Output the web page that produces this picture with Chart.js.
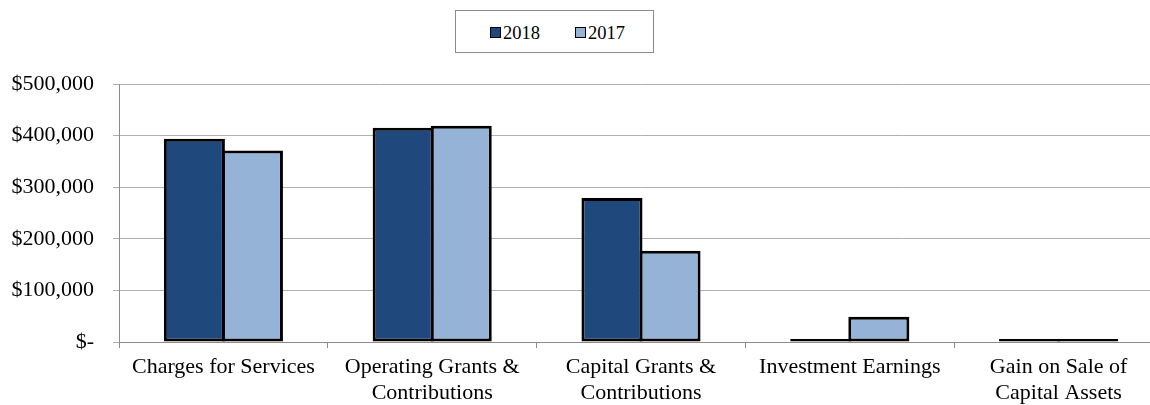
<!DOCTYPE html>
<html>
<head>
<meta charset="utf-8">
<script src="https://cdn.jsdelivr.net/npm/chart.js@4/dist/chart.umd.min.js"></script>
<style>
  html, body { margin: 0; padding: 0; background: #fff; overflow: hidden; }
  #wrap { position: relative; width: 1165px; height: 405px; }
  #legend {
    position: absolute; left: 455px; top: 10px; width: 197px; height: 41px;
    border: 1px solid #8c8c8c; background: #fff;
    font-family: "Liberation Serif", "Times New Roman", serif; font-size: 18.5px; color: #000;
  }
  #legend .mk { position: absolute; width: 11px; height: 11px; box-sizing: border-box; border: 1.5px solid #000; }
  #legend .tx { position: absolute; line-height: 18.5px; white-space: nowrap; }
</style>
</head>
<body>
<div id="wrap">
  <canvas id="c" width="1165" height="405"></canvas>
  <div id="legend"></div>
</div>
<script>
// Revenue categories (multi-line labels as arrays)
const categories = [
  ['Charges for Services'],
  ['Operating Grants &', 'Contributions'],
  ['Capital Grants &', 'Contributions'],
  ['Investment Earnings'],
  ['Gain on Sale of', 'Capital Assets']
];
const seriesNames = ['2018', '2017'];
const values2018 = [394000, 415000, 279000, 0, 0];
const values2017 = [371000, 419000, 177000, 49000, 0];
const yTickValues = [0, 100000, 200000, 300000, 400000, 500000];

const FONT = '"Liberation Serif", "Times New Roman", serif';

// Boxed legend drawn as HTML from the chart's own legend items
const htmlLegend = {
  id: 'htmlLegend',
  afterUpdate(chart) {
    const box = document.getElementById('legend');
    box.innerHTML = '';
    const items = chart.options.plugins.legend.labels.generateLabels(chart);
    items.forEach((it, i) => {
      const mk = document.createElement('div');
      mk.className = 'mk';
      mk.style.left = (34 + i * 85) + 'px';
      mk.style.top = '16px';
      mk.style.background = it.fillStyle;
      const tx = document.createElement('div');
      tx.className = 'tx';
      tx.style.left = (47 + i * 85) + 'px';
      tx.style.top = '13px';
      tx.textContent = it.text;
      box.appendChild(mk);
      box.appendChild(tx);
    });
  }
};

new Chart(document.getElementById('c'), {
  type: 'bar',
  data: {
    labels: categories,
    datasets: [
      { label: seriesNames[0], data: values2018, backgroundColor: '#1F497D' },
      { label: seriesNames[1], data: values2017, backgroundColor: '#95B3D7' }
    ]
  },
  options: {
    responsive: false,
    animation: false,
    layout: { padding: { top: 84, right: 2, bottom: 0, left: 0 } },
    datasets: {
      bar: {
        borderColor: '#000',
        borderWidth: 3,
        borderSkipped: false,
        minBarLength: 3,
        // paired bars share one outline where they meet
        categoryPercentage: 0.556,
        barPercentage: 1.052
      }
    },
    plugins: {
      legend: { display: false },
      tooltip: { enabled: false }
    },
    scales: {
      x: {
        grid: { display: true, drawOnChartArea: false, drawTicks: true, tickLength: 6, color: '#8c8c8c', offset: true },
        border: { display: true, color: '#8c8c8c', width: 1 },
        ticks: { color: '#000', font: { family: FONT, size: 22 }, padding: 6, maxRotation: 0, autoSkip: false },
        afterFit(scale) { scale.height = 405 - 342; }
      },
      y: {
        min: yTickValues[0],
        max: yTickValues[yTickValues.length - 1],
        afterBuildTicks(scale) { scale.ticks = yTickValues.map(v => ({ value: v })); },
        grid: { color: '#b0b0b0', lineWidth: 1, drawTicks: true, tickLength: 6 },
        border: { display: true, color: '#8c8c8c', width: 1 },
        ticks: {
          color: '#000',
          font: { family: FONT, size: 22 },
          padding: 19,
          callback: v => v === 0 ? '$-' : '$' + v.toLocaleString('en-US')
        },
        afterFit(scale) { scale.width = 119; }
      }
    }
  },
  plugins: [htmlLegend]
});
</script>
</body>
</html>
